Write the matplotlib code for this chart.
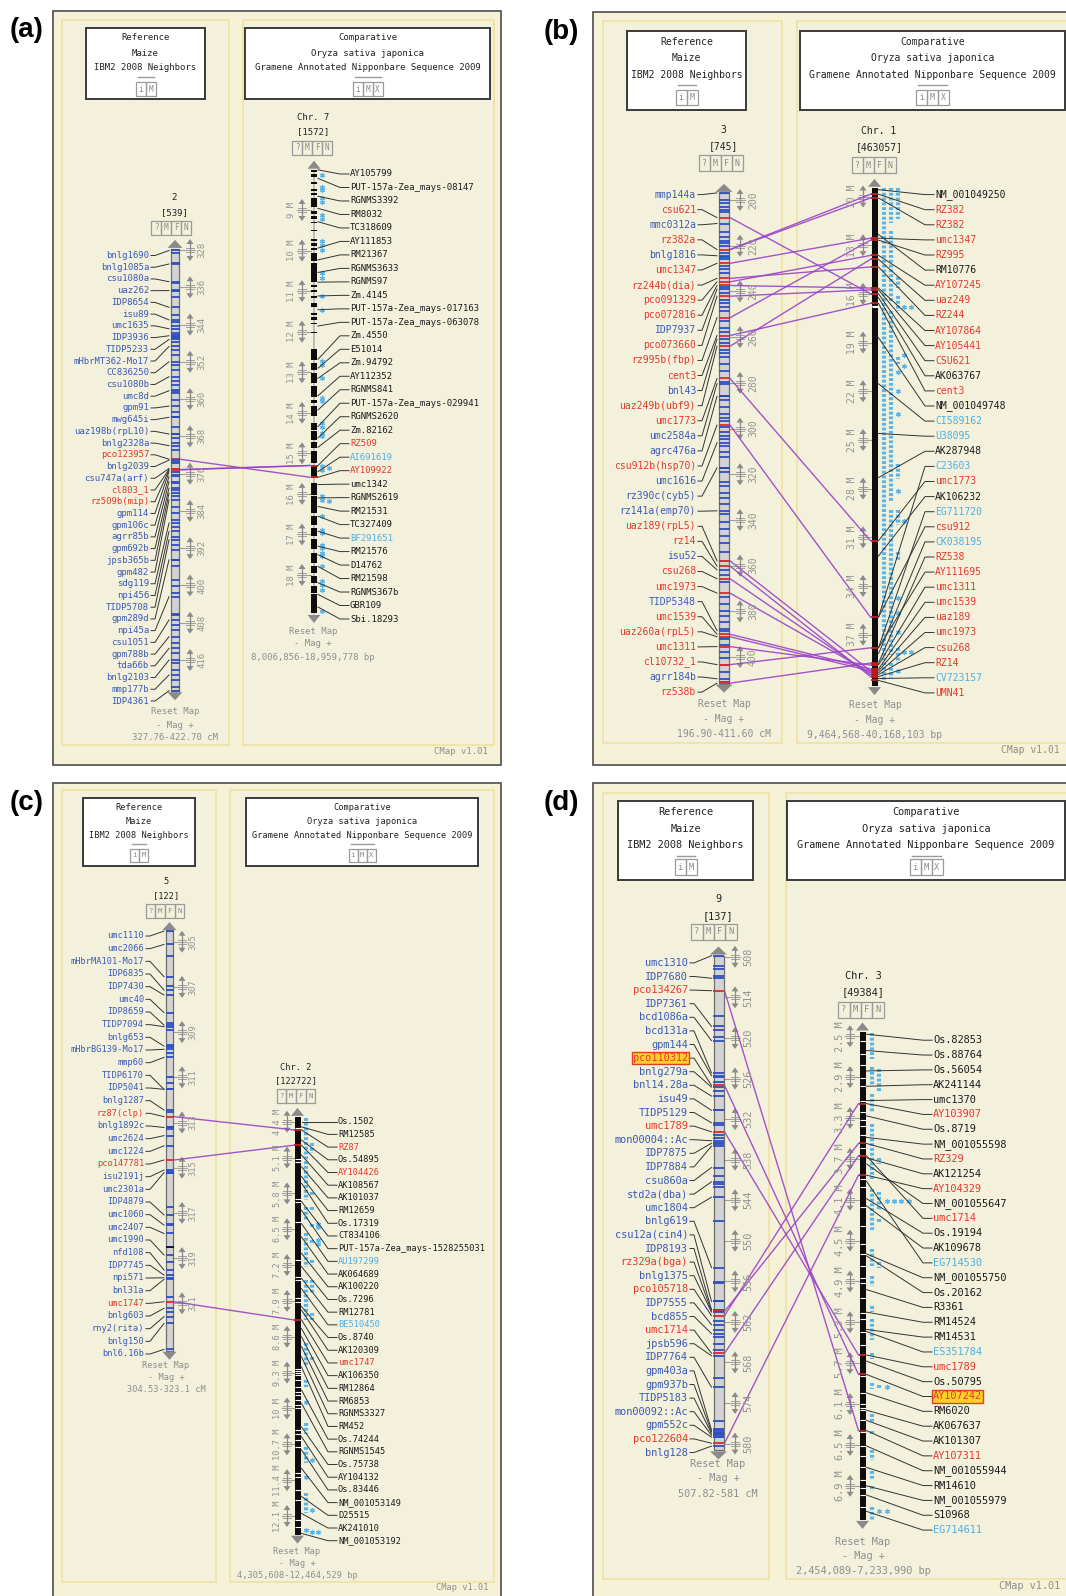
import numpy as np
import matplotlib
matplotlib.use("Agg")
import matplotlib.pyplot as plt
from matplotlib.patches import Rectangle, Polygon

# ---------------- panel (a): maize chr 2 vs rice chr 7 ----------------
A_REF_NAMES = ["bnlg1690", "bnlg1085a", "csu1080a", "uaz262", "IDP8654", "isu89", "umc1635",
               "IDP3936", "TIDP5233", "mHbrMT362-Mo17", "CC836250", "csu1080b", "umc8d", "gpm91",
               "mwg645i", "uaz198b(rpL10)", "bnlg2328a", "pco123957", "bnlg2039", "csu747a(arf)",
               "cl803_1", "rz509b(mip)", "gpm114", "gpm106c", "agrr85b", "gpm692b", "jpsb365b",
               "gpm482", "sdg119", "npi456", "TIDP5708", "gpm289d", "npi45a", "csu1051", "gpm788b",
               "tda66b", "bnlg2103", "mmp177b", "IDP4361"]
A_REF_POS = [328.1, 331.0, 334.8, 336.7, 340.3, 343.0, 344.9, 346.4, 347.2, 348.7, 352.0, 355.2,
             358.2, 361.5, 363.9, 367.5, 370.0, 372.9, 373.1, 374.9, 375.1, 375.2, 375.6, 376.6,
             377.7, 379.1, 380.2, 381.6, 386.6, 388.4, 390.2, 394.5, 402.4, 407.4, 411.0, 413.5,
             416.0, 419.2, 422.6]
A_REF_RED = ["pco123957", "cl803_1", "rz509b(mip)"]
A_REF_EXTRA = [328.6, 330.8, 335.1, 336.6, 336.9, 338.0, 341.9, 343.4, 344.4, 345.9, 346.2, 346.6,
               346.9, 347.7, 349.4, 350.5, 352.7, 353.7, 356.2, 357.0, 358.0, 358.7, 360.2, 362.7,
               365.9, 368.4, 369.5, 370.9, 373.5, 373.8, 376.3, 378.1, 379.5, 380.9, 383.1, 384.5,
               385.9, 387.4, 389.5, 391.3, 392.4, 395.9, 398.8, 400.2, 401.7, 406.1, 406.4, 408.5,
               409.5, 412.4, 414.5, 416.7, 418.1, 420.3, 421.7]
A_REF_DARK = [363.9, 367.5, 394.5]
A_COMP_NAMES = ["AY105799", "PUT-157a-Zea_mays-08147", "RGNMS3392", "RM8032", "TC318609",
                "AY111853", "RM21367", "RGNMS3633", "RGNMS97", "Zm.4145",
                "PUT-157a-Zea_mays-017163", "PUT-157a-Zea_mays-063078", "Zm.4550", "E51014",
                "Zm.94792", "AY112352", "RGNMS841", "PUT-157a-Zea_mays-029941", "RGNMS2620",
                "Zm.82162", "RZ509", "AI691619", "AY109922", "umc1342", "RGNMS2619", "RM21531",
                "TC327409", "BF291651", "RM21576", "D14762", "RM21598", "RGNMS367b", "GBR109",
                "Sbi.18293"]
A_COMP_POS = [8.01, 8.22, 8.66, 8.96, 9.29, 9.94, 10.23, 10.54, 10.78, 11.12, 11.46, 11.86, 12.68,
              12.90, 13.15, 13.58, 13.93, 14.34, 14.62, 14.85, 15.30, 15.45, 15.59, 15.77, 16.10,
              16.31, 16.55, 16.92, 17.29, 17.50, 17.79, 18.19, 18.48, 18.79]
A_COMP_RED = ["RZ509", "AY109922"]
A_COMP_CYAN = ["AI691619", "BF291651"]
A_COMP_SEGS = [(8.01, 8.06), (8.10, 8.18), (8.30, 8.36), (8.49, 8.54), (8.59, 8.64), (8.71, 8.93),
               (9.02, 9.10), (9.16, 9.21), (9.29, 9.31), (9.49, 9.53), (9.72, 9.76), (9.82, 9.89),
               (9.94, 9.99), (10.05, 10.25), (10.31, 10.77), (10.85, 10.90), (10.97, 11.01),
               (11.13, 11.17), (11.30, 11.38), (11.53, 11.59), (11.64, 11.71), (11.78, 11.82),
               (12.00, 12.04), (12.42, 12.71), (12.78, 12.94), (13.01, 13.27), (13.33, 13.60),
               (13.68, 13.76), (13.83, 14.09), (14.25, 14.42), (14.46, 14.66), (14.73, 14.87),
               (14.95, 15.24), (15.32, 15.61), (15.73, 16.02), (16.06, 16.47), (16.55, 16.76),
               (16.84, 17.05), (17.11, 17.37), (17.46, 17.70), (17.78, 17.95), (18.03, 18.20),
               (18.28, 18.44), (18.48, 18.93)]
A_COMP_AST = [(0, 8.14), (0, 8.43), (0, 8.51), (0, 8.71), (0, 8.80), (0, 9.13), (0, 9.21),
              (0, 9.76), (0, 9.86), (0, 9.99), (0, 10.56), (0, 10.68), (0, 11.12), (0, 11.46),
              (0, 12.73), (0, 12.82), (0, 13.15), (0, 13.64), (0, 13.72), (0, 14.25), (0, 14.34),
              (0, 14.50), (0, 14.58), (0, 15.32), (0, 15.40), (1, 15.36), (0, 16.06), (0, 16.14),
              (1, 16.18), (0, 16.55), (0, 16.88), (0, 16.97), (0, 17.25), (0, 17.33), (0, 17.46),
              (0, 17.54), (0, 17.79), (0, 18.15), (0, 18.24), (0, 18.36), (0, 18.89)]
A_LINKS = [("pco123957", "AY109922"), ("rz509b(mip)", "RZ509"), ("cl803_1", "RZ509")]

# ---------------- panel (b): maize chr 3 vs rice chr 1 ----------------
B_REF_NAMES = ["mmp144a", "csu621", "mmc0312a", "rz382a", "bnlg1816", "umc1347", "rz244b(dia)",
               "pco091329", "pco072816", "IDP7937", "pco073660", "rz995b(fbp)", "cent3", "bnl43",
               "uaz249b(ubf9)", "umc1773", "umc2584a", "agrc476a", "csu912b(hsp70)", "umc1616",
               "rz390c(cyb5)", "rz141a(emp70)", "uaz189(rpL5)", "rz14", "isu52", "csu268",
               "umc1973", "TIDP5348", "umc1539", "uaz260a(rpL5)", "umc1311", "cl10732_1",
               "agrr184b", "rz538b"]
B_REF_POS = [196.9, 207.7, 210.3, 221.7, 224.4, 227.7, 234.3, 235.8, 237.4, 239.0, 242.1, 251.5,
             259.3, 260.9, 264.0, 278.1, 280.4, 285.9, 298.5, 306.2, 317.2, 336.0, 357.9, 360.2,
             361.8, 365.7, 372.0, 388.4, 390.0, 391.1, 395.4, 403.3, 409.5, 411.4]
B_REF_RED = ["csu621", "rz382a", "umc1347", "rz244b(dia)", "pco091329", "pco072816", "pco073660",
             "rz995b(fbp)", "cent3", "uaz249b(ubf9)", "umc1773", "csu912b(hsp70)", "uaz189(rpL5)",
             "rz14", "csu268", "umc1973", "umc1539", "uaz260a(rpL5)", "umc1311", "cl10732_1",
             "rz538b"]
B_REF_EXTRA = [199.8, 201.4, 203.0, 204.5, 205.3, 213.9, 216.3, 217.8, 218.9, 220.2, 223.3, 224.9,
               225.7, 228.8, 230.4, 231.9, 238.2, 240.5, 243.7, 245.2, 246.8, 248.4, 253.1, 256.2,
               257.7, 262.4, 265.6, 267.1, 268.7, 271.8, 275.0, 279.7, 285.9, 287.5, 290.6, 293.7,
               295.3, 296.9, 299.2, 301.6, 303.1, 304.7, 307.8, 310.2, 312.5, 317.2, 318.8, 323.5,
               325.0, 328.2, 330.5, 332.9, 337.6, 340.7, 343.8, 346.9, 350.1, 354.0, 357.9, 364.2,
               367.3, 373.5, 376.7, 379.8, 382.2, 384.5, 387.6, 391.5, 392.0, 394.7, 397.8, 400.2,
               403.3, 406.4, 411.1]
B_REF_DARK = [285.9, 317.2]
B_COMP_NAMES = ["NM_001049250", "RZ382", "RZ382", "umc1347", "RZ995", "RM10776", "AY107245",
                "uaz249", "RZ244", "AY107864", "AY105441", "CSU621", "AK063767", "cent3",
                "NM_001049748", "CI589162", "U38095", "AK287948", "C23603", "umc1773", "AK106232",
                "EG711720", "csu912", "CK038195", "RZ538", "AY111695", "umc1311", "umc1539",
                "uaz189", "umc1973", "csu268", "RZ14", "CV723157", "UMN41"]
B_COMP_POS = [9.58, 9.86, 10.09, 12.57, 12.69, 12.34, 13.63, 13.87, 14.34, 15.64, 15.75, 15.99,
              16.23, 16.58, 18.70, 21.54, 24.60, 27.32, 35.92, 31.21, 32.15, 37.81, 35.92, 38.17,
              38.75, 37.81, 38.87, 39.11, 39.23, 39.35, 39.46, 39.58, 39.70, 39.82]
B_COMP_BLACK = ["NM_001049250", "RM10776", "AK063767", "NM_001049748", "AK287948", "AK106232"]
B_COMP_CYAN = ["CI589162", "U38095", "C23603", "EG711720", "CK038195", "CV723157"]
B_COMP_GAPS = [16.72, 16.77, 16.82]
B_COMP_RUNS = [(0, 9.46, 39.93), (1, 9.46, 11.63), (1, 12.10, 16.58), (1, 17.05, 28.84),
               (1, 29.32, 38.28), (1, 38.75, 39.69), (2, 9.50, 11.39), (2, 14.93, 15.64),
               (2, 16.11, 17.05), (2, 19.88, 20.35), (2, 26.49, 27.43), (2, 29.32, 30.26),
               (2, 31.91, 32.38), (2, 37.81, 38.75)]
B_COMP_AST = [(2, 20.83), (2, 22.0), (2, 23.42), (2, 28.14), (2, 34.74), (2, 35.68), (2, 36.86),
              (2, 39.22), (3, 16.82), (3, 19.76), (3, 20.47), (3, 30.02), (3, 38.04), (4, 16.82),
              (4, 38.04)]
B_LINKS = [("csu621", "CSU621"), ("rz382a", "RZ382"), ("umc1347", "umc1347"),
           ("rz244b(dia)", "RZ244"), ("pco091329", "AY107245"), ("pco072816", "AY107864"),
           ("pco073660", "AY105441"), ("rz995b(fbp)", "RZ995"), ("cent3", "cent3"),
           ("uaz249b(ubf9)", "uaz249"), ("umc1773", "umc1773"), ("csu912b(hsp70)", "csu912"),
           ("uaz189(rpL5)", "uaz189"), ("rz14", "RZ14"), ("csu268", "csu268"),
           ("umc1973", "umc1973"), ("umc1539", "umc1539"), ("uaz260a(rpL5)", "uaz189"),
           ("umc1311", "umc1311"), ("cl10732_1", "AY111695"), ("rz538b", "RZ538")]

# ---------------- panel (c): maize chr 5 vs rice chr 2 ----------------
C_REF_NAMES = ["umc1110", "umc2066", "mHbrMA101-Mo17", "IDP6835", "IDP7430", "umc40", "IDP8659",
               "TIDP7094", "bnlg653", "mHbrBG139-Mo17", "mmp60", "TIDP6170", "IDP5041",
               "bnlg1287", "rz87(clp)", "bnlg1892c", "umc2624", "umc1224", "pco147781",
               "isu2191j", "umc2301a", "IDP4879", "umc1060", "umc2407", "umc1990", "nfd108",
               "IDP7745", "npi571", "bnl31a", "umc1747", "bnlg603", "rny2(rita)", "bnlg150",
               "bnl6.16b"]
C_REF_POS = [304.53, 305.12, 306.55, 307.14, 307.36, 308.14, 308.69, 308.76, 309.62, 309.76,
             310.12, 311.53, 311.53, 312.45, 312.74, 313.22, 313.58, 314.03, 314.66, 315.10,
             315.22, 317.09, 317.54, 317.91, 318.86, 319.53, 319.75, 319.87, 319.94, 320.93,
             321.22, 321.59, 321.89, 323.04]
C_REF_RED = ["rz87(clp)", "pco147781", "umc1747"]
C_REF_EXTRA = [305.63, 306.96, 308.61, 308.91, 309.57, 309.68, 309.91, 310.97, 311.27, 312.52,
               313.18, 313.27, 315.16, 315.25, 316.73, 317.51, 318.50, 319.16, 320.71, 321.37]
C_REF_DARK = [318.50]
C_COMP_NAMES = ["Os.1502", "RM12585", "RZ87", "Os.54895", "AY104426", "AK108567", "AK101037",
                "RM12659", "Os.17319", "CT834106", "PUT-157a-Zea_mays-1528255031", "AU197299",
                "AK064689", "AK100220", "Os.7296", "RM12781", "BE510450", "Os.8740", "AK120309",
                "umc1747", "AK106350", "RM12864", "RM6853", "RGNMS3327", "RM452", "Os.74244",
                "RGNMS1545", "Os.75738", "AY104132", "Os.83446", "NM_001053149", "D25515",
                "AK241010", "NM_001053192"]
C_COMP_POS = [4.40, 4.50, 4.56, 4.76, 4.86, 5.05, 5.28, 5.47, 5.60, 5.96, 6.13, 6.39, 6.65, 6.97,
              7.23, 7.46, 7.66, 8.01, 8.08, 8.27, 8.44, 8.60, 8.79, 8.99, 9.19, 9.64, 9.90, 10.36,
              10.55, 10.81, 11.17, 11.72, 12.05, 12.44]
C_COMP_RED = ["RZ87", "AY104426", "umc1747"]
C_COMP_CYAN = ["AU197299", "BE510450"]
C_COMP_GAPS = [4.53, 5.12, 5.18, 5.90, 5.96, 6.35, 7.10, 7.43, 7.49, 7.85, 7.92, 9.22, 9.26,
               9.30, 9.34, 9.45, 9.58, 9.67, 9.74, 9.84, 9.93, 10.0, 10.42, 10.49, 10.62, 10.75,
               11.27, 11.33, 11.59, 11.79, 12.18, 12.31]
C_COMP_RUNS = [(0, 4.33, 5.93), (0, 6.06, 6.32), (0, 6.58, 7.23), (0, 7.49, 8.27), (0, 8.73, 9.19),
               (0, 9.45, 9.58), (0, 10.29, 10.49), (0, 10.75, 11.07), (0, 11.66, 12.05),
               (1, 4.82, 5.02), (1, 5.77, 5.86), (1, 6.06, 6.16), (1, 6.39, 6.45), (1, 6.71, 6.81),
               (1, 7.10, 7.20), (1, 7.49, 7.75), (1, 8.14, 8.27), (1, 8.99, 9.09)]
C_COMP_AST = [(0, 9.87), (0, 11.33), (0, 12.38), (1, 11.01), (1, 11.98), (1, 12.41), (2, 6.39),
              (2, 6.45), (2, 6.71), (2, 6.78), (2, 12.41)]
C_LINKS = [("rz87(clp)", "RZ87"), ("pco147781", "AY104426"), ("umc1747", "umc1747")]

# ---------------- panel (d): maize chr 9 vs rice chr 3 ----------------
D_REF_NAMES = ["umc1310", "IDP7680", "pco134267", "IDP7361", "bcd1086a", "bcd131a", "gpm144",
               "pco110312", "bnlg279a", "bnl14.28a", "isu49", "TIDP5129", "umc1789",
               "mon00004::Ac", "IDP7875", "IDP7884", "csu860a", "std2a(dba)", "umc1804",
               "bnlg619", "csu12a(cin4)", "IDP8193", "rz329a(bga)", "bnlg1375", "pco105718",
               "IDP7555", "bcd855", "umc1714", "jpsb596", "IDP7764", "gpm403a", "gpm937b",
               "TIDP5183", "mon00092::Ac", "gpm552c", "pco122604", "bnlg128"]
D_REF_POS = [507.84, 511.17, 513.02, 518.30, 520.41, 525.17, 525.59, 527.02, 527.28, 528.60,
             530.72, 532.56, 533.89, 535.21, 535.58, 536.00, 539.17, 541.28, 543.55, 553.96,
             558.98, 560.19, 560.46, 560.56, 561.09, 562.41, 563.73, 566.64, 567.01, 571.66,
             578.00, 578.26, 578.52, 578.79, 579.05, 579.95, 580.37]
D_REF_RED = ["pco134267", "pco110312", "umc1789", "rz329a(bga)", "pco105718", "umc1714",
             "pco122604"]
D_REF_EXTRA = [509.32, 509.85, 510.91, 516.72, 518.83, 519.89, 525.80, 526.49, 527.81, 530.6,
               532.83, 534.41, 534.84, 535.73, 540.49, 541.54, 542.07, 547.09, 556.07, 556.3,
               558.98, 560.30, 561.88, 563.20, 564.26, 565.32, 566.11, 570.33, 576.67, 577.89,
               578.4, 578.63, 579.05]
D_REF_DARK = [558.98]
D_COMP_NAMES = ["Os.82853", "Os.88764", "Os.56054", "AK241144", "umc1370", "AY103907", "Os.8719",
                "NM_001055598", "RZ329", "AK121254", "AY104329", "NM_001055647", "umc1714",
                "Os.19194", "AK109678", "EG714530", "NM_001055750", "Os.20162", "R3361",
                "RM14524", "RM14531", "ES351784", "umc1789", "Os.50795", "AY107242", "RM6020",
                "AK067637", "AK101307", "AY107311", "NM_001055944", "RM14610", "NM_001055979",
                "S10968", "EG714611"]
D_COMP_POS = [2.48, 2.64, 2.84, 2.99, 3.13, 3.16, 3.28, 3.49, 3.55, 3.69, 3.86, 3.75, 3.67, 4.09,
              4.16, 3.92, 4.63, 4.65, 4.98, 5.20, 5.37, 5.39, 5.62, 5.68, 5.81, 5.99, 6.16, 6.26,
              6.36, 6.51, 6.72, 6.90, 6.99, 7.15]
D_COMP_RED = ["AY103907", "RZ329", "AY104329", "umc1714", "umc1789", "AY107242", "AY107311"]
D_COMP_CYAN = ["EG714530", "ES351784", "EG714611"]
D_HIGHLIGHT = ["pco110312", "AY107242"]
D_COMP_GAPS = [2.55, 2.67, 2.78, 2.91, 2.99, 3.13, 3.24, 3.32, 3.38, 3.47, 3.59, 3.90, 3.98, 4.17,
               4.36, 4.53, 4.63, 4.75, 4.87, 4.92, 5.06, 5.21, 5.27, 5.39, 5.52, 5.83, 5.99, 6.10,
               6.14, 6.16, 6.26, 6.37, 6.51, 6.61, 6.72, 6.84, 6.92, 6.99, 7.11]
D_COMP_RUNS = [(0, 2.47, 2.72), (0, 2.80, 2.99), (0, 3.07, 3.24), (0, 3.36, 3.90), (0, 4.00, 4.40),
               (0, 4.58, 4.75), (0, 4.85, 4.94), (0, 5.14, 5.20), (0, 5.27, 5.47), (0, 5.60, 5.66),
               (0, 5.89, 5.95), (0, 6.20, 6.28), (0, 6.36, 6.39), (0, 6.55, 6.65), (0, 6.76, 6.84),
               (0, 6.90, 6.95), (0, 7.11, 7.23), (1, 2.82, 3.05), (1, 3.69, 3.75), (1, 4.02, 4.21),
               (1, 4.29, 4.33), (1, 4.71, 4.77), (1, 5.91, 5.95)]
D_COMP_AST = [(1, 7.15), (2, 4.11), (3, 4.11), (4, 4.11), (5, 4.11), (2, 5.93), (2, 7.15)]
D_LINKS = [("pco134267", "AY107311"), ("pco110312", "AY107242"), ("umc1789", "umc1789"),
           ("rz329a(bga)", "RZ329"), ("pco105718", "AY103907"), ("umc1714", "umc1714"),
           ("pco122604", "AY104329")]

# ---------------- layout ----------------
MONO = "DejaVu Sans Mono"
COL = {"b": "#3a5ab8", "r": "#e6392b", "k": "#1c1c1c", "c": "#4cb0e4"}
GRAY = "#8e8e8e"
PURPLE = "#9b42c8"
AST = "#5ab6e8"

PANELS = [
    dict(tag="(a)", tag_xy=(27, 30), outer=(53, 11, 501, 765), fs=6.5,
         subs=[(62, 20, 229, 745), (243, 20, 494, 745)],
         heads=[(86, 28, 205, 99), (245, 28, 490, 99)], head_y=[38, 53, 68, 77, 89], btn=(10, 14),
         cmap=(488, 752)),
    dict(tag="(b)", tag_xy=(561, 32), outer=(593, 12, 1075, 765), fs=7.0,
         subs=[(603, 21, 782, 743), (797, 21, 1075, 743)],
         heads=[(627, 31, 746, 110), (800, 31, 1065, 110)], head_y=[42, 58, 75, 85, 97], btn=(11, 15),
         cmap=(1060, 750)),
    dict(tag="(c)", tag_xy=(27, 803), outer=(53, 783, 501, 1610), fs=6.2,
         subs=[(62, 790, 216, 1582), (230, 790, 494, 1582)],
         heads=[(83, 798, 195, 866), (246, 798, 478, 866)], head_y=[807, 822, 836, 844, 855], btn=(9, 13),
         cmap=(488, 1588)),
    dict(tag="(d)", tag_xy=(561, 803), outer=(593, 783, 1075, 1610), fs=7.4,
         subs=[(603, 793, 769, 1579), (786, 793, 1075, 1579)],
         heads=[(618, 801, 753, 880), (787, 801, 1065, 880)], head_y=[812, 829, 845, 856, 867], btn=(11, 16),
         cmap=(1060, 1586)),
]

MAPS = {
    "a_ref": dict(kind="ref", bar_x=175, bar_w=8, anchor=(336, 287.3, 416, 660.0), range=(327.76, 422.70),
                  label_x=149, label_y=(255.5, 701), arrow_x=190, tick_x=202,
                  ticks=[328, 336, 344, 352, 360, 368, 376, 384, 392, 400, 408, 416],
                  title=["2", "[539]"], title_x=174, title_y=[198, 213], btn_y=228, btn_x=171,
                  foot=["Reset Map", "- Mag +", "327.76-422.70 cM"], foot_x=175, foot_y=[712, 725, 738]),
    "a_comp": dict(kind="comp", bar_x=314, bar_w=6, anchor=(9, 210, 18, 575), range=(8.006856, 18.959778),
                   label_x=350, label_y=(174, 619), arrow_x=302, tick_x=292,
                   ticks=[9, 10, 11, 12, 13, 14, 15, 16, 17, 18], ast_x=(322, 7),
                   title=["Chr. 7", "[1572]"], title_x=313, title_y=[117, 132], btn_y=148, btn_x=312,
                   foot=["Reset Map", "- Mag +", "8,006,856-18,959,778 bp"], foot_x=313, foot_y=[631, 644, 658]),
    "b_ref": dict(kind="ref", bar_x=724, bar_w=10, anchor=(200, 200, 400, 657.1), range=(196.90, 411.60),
                  label_x=696, label_y=(194.6, 692.1), arrow_x=740, tick_x=753,
                  ticks=[200, 220, 240, 260, 280, 300, 320, 340, 360, 380, 400],
                  title=["3", "[745]"], title_x=723, title_y=[130, 146], btn_y=163, btn_x=721,
                  foot=["Reset Map", "- Mag +", "196.90-411.60 cM"], foot_x=724, foot_y=[704, 719, 734]),
    "b_comp": dict(kind="comp", bar_x=874.5, bar_w=6, anchor=(10, 196.5, 37, 634.7), range=(9.464568, 40.168103),
                   label_x=935, label_y=(194.6, 692.9), arrow_x=863, tick_x=852,
                   ticks=[10, 13, 16, 19, 22, 25, 28, 31, 34, 37], ast_x=(884, 6.8),
                   title=["Chr. 1", "[463057]"], title_x=879, title_y=[131, 147], btn_y=165, btn_x=874,
                   foot=["Reset Map", "- Mag +", "9,464,568-40,168,103 bp"], foot_x=875, foot_y=[705, 720, 735]),
    "c_ref": dict(kind="ref", bar_x=169.5, bar_w=7, anchor=(305, 941.7, 321, 1303.3), range=(304.53, 323.1),
                  label_x=144, label_y=(936, 1354), arrow_x=182, tick_x=193,
                  ticks=[305, 307, 309, 311, 313, 315, 317, 319, 321],
                  title=["5", "[122]"], title_x=166, title_y=[882, 896], btn_y=911, btn_x=165,
                  foot=["Reset Map", "- Mag +", "304.53-323.1 cM"], foot_x=166, foot_y=[1365, 1377, 1390]),
    "c_comp": dict(kind="comp", bar_x=297.5, bar_w=6, anchor=(4.4, 1121.7, 12.1, 1516), range=(4.305608, 12.464529),
                   label_x=338, label_y=(1121.7, 1540.7), arrow_x=287, tick_x=277,
                   ticks=[4.4, 5.1, 5.8, 6.5, 7.2, 7.9, 8.6, 9.3, 10, 10.7, 11.4, 12.1], ast_x=(306, 6),
                   title=["Chr. 2", "[122722]"], title_x=296, title_y=[1067, 1081], btn_y=1096, btn_x=296,
                   foot=["Reset Map", "- Mag +", "4,305,608-12,464,529 bp"], foot_x=297, foot_y=[1551, 1563, 1576]),
    "d_ref": dict(kind="ref", bar_x=718.5, bar_w=10, anchor=(508, 956.8, 580, 1443.6), range=(507.82, 581),
                  label_x=688, label_y=(962.9, 1452.5), arrow_x=735, tick_x=748,
                  ticks=[508, 514, 520, 526, 532, 538, 544, 550, 556, 562, 568, 574, 580],
                  title=["9", "[137]"], title_x=718, title_y=[899, 916], btn_y=932, btn_x=714,
                  foot=["Reset Map", "- Mag +", "507.82-581 cM"], foot_x=718, foot_y=[1464, 1478, 1494]),
    "d_comp": dict(kind="comp", bar_x=862.5, bar_w=6, anchor=(2.5, 1036.2, 6.9, 1485.8), range=(2.454089, 7.233990),
                   label_x=933, label_y=(1040.2, 1530.1), arrow_x=850, tick_x=840,
                   ticks=[2.5, 2.9, 3.3, 3.7, 4.1, 4.5, 4.9, 5.3, 5.7, 6.1, 6.5, 6.9], ast_x=(872, 7.3),
                   title=["Chr. 3", "[49384]"], title_x=863, title_y=[976, 992], btn_y=1010, btn_x=861,
                   foot=["Reset Map", "- Mag +", "2,454,089-7,233,990 bp"], foot_x=863, foot_y=[1542, 1556, 1571]),
}

W, H = 1066, 1596
fig = plt.figure(figsize=(W / 100, H / 100), dpi=100)
ax = fig.add_axes([0, 0, 1, 1])
ax.set_xlim(0, W)
ax.set_ylim(H, 0)
ax.axis("off")


def ymap(anchor):
    v0, y0, v1, y1 = anchor
    k = (y1 - y0) / (v1 - v0)
    return lambda v: y0 + (np.asarray(v, dtype=float) - v0) * k


def txt(x, y, s, fs, color="#222222", ha="center", **kw):
    ax.text(x, y, s, fontsize=fs, family=MONO, color=color, ha=ha, va="center", zorder=6, **kw)


def buttons(cx, cy, letters, bw, bh, fs):
    x0 = cx - len(letters) * bw / 2
    for i, ch in enumerate(letters):
        ax.add_patch(Rectangle((x0 + i * bw, cy - bh / 2), bw, bh, fc="none", ec="#9a9a9a",
                               lw=0.9, zorder=6))
        txt(x0 + (i + 0.5) * bw, cy, ch, fs * 0.85, color="#8a8a8a")


def draw_map(m, fs, names, pos, cols, extra=(), dark=(), segs=None, gaps=(), runs=(), ast=(),
             highlight=()):
    y = ymap(m["anchor"])
    ref = m["kind"] == "ref"
    bx, bw = m["bar_x"], m["bar_w"]
    top, bot = float(y(m["range"][0])), float(y(m["range"][1]))
    left, right = bx - bw / 2, bx + bw / 2

    # title, buttons, footer
    for s, ty in zip(m["title"], m["title_y"]):
        txt(m["title_x"], ty, s, fs)
    buttons(m["btn_x"], m["btn_y"], "?MFN", fs * 1.55, fs * 2.2, fs)
    for s, fy in zip(m["foot"], m["foot_y"]):
        txt(m["foot_x"], fy, s, fs, color=GRAY)

    # scale
    side = 1 if ref else -1
    edge = right if ref else left
    axx = m["arrow_x"]
    for v in m["ticks"]:
        yy = float(y(v))
        ax.plot([edge, axx + side * 5], [yy, yy], color="#a0a0a0", lw=0.8, zorder=2.5)
        ax.plot([axx - 4, axx + 4], [yy - 2, yy - 2], color="#a0a0a0", lw=0.7, zorder=2.5)
        ax.plot([axx - 4, axx + 4], [yy + 2, yy + 2], color="#a0a0a0", lw=0.7, zorder=2.5)
        ax.plot([axx, axx], [yy - 8, yy + 8], color="#8a8a8a", lw=0.9, zorder=2.5)
        ax.add_patch(Polygon([(axx - 3.5, yy - 6), (axx + 3.5, yy - 6), (axx, yy - 11)],
                             closed=True, fc="#8a8a8a", ec="none", zorder=2.5))
        ax.add_patch(Polygon([(axx - 3.5, yy + 6), (axx + 3.5, yy + 6), (axx, yy + 11)],
                             closed=True, fc="#8a8a8a", ec="none", zorder=2.5))
        lab = ("%g" % v) if ref else ("%g M" % v)
        txt(m["tick_x"], yy, lab, fs, color="#939393", rotation=90)

    # bar
    if ref:
        ax.add_patch(Rectangle((left, top), bw, bot - top, fc="#d3d3d3", ec="#707070", lw=0.9, zorder=3))
    elif segs is not None:
        ax.add_patch(Rectangle((left + bw * 0.35, top), bw * 0.3, bot - top, fc="#bdbdbd", ec="none", zorder=3))
        for s, e in segs:
            ax.add_patch(Rectangle((left, float(y(s))), bw, float(y(e) - y(s)), fc="#0d0d0d",
                                   ec="none", zorder=3))
    else:
        ax.add_patch(Rectangle((left, top), bw, bot - top, fc="#0d0d0d", ec="none", zorder=3))
        if len(gaps):
            ax.hlines(y(gaps), left, right, colors="white", lw=0.8, zorder=3.2)
    h = bw / 2 + 3.5
    ax.add_patch(Polygon([(bx - h, top - 1), (bx + h, top - 1), (bx, top - 9)], closed=True,
                         fc="#8a8a8a", ec="none", zorder=3))
    ax.add_patch(Polygon([(bx - h, bot + 1), (bx + h, bot + 1), (bx, bot + 9)], closed=True,
                         fc="#8a8a8a", ec="none", zorder=3))

    # features
    if ref:
        ax.hlines(y(extra), left - 0.5, right + 0.5, colors="#2d4fc4", lw=1.3, zorder=4)
        ax.hlines(y(dark), left - 0.5, right + 0.5, colors="#101030", lw=1.3, zorder=4.1)
    fcol = {"b": "#2d4fc4", "r": "#e02a2a", "k": "#111111", "c": None}
    for p, c in zip(pos, cols):
        if ref or c == "r":
            ax.hlines(float(y(p)), left - 0.5, right + 0.5,
                      colors=fcol[c] if ref else "#c81e1e", lw=1.3, zorder=4.2)

    # EST hits beside the comparative bar
    if not ref:
        x0, dx = m["ast_x"]
        for c, s, e in runs:
            ax.vlines(x0 + c * dx, float(y(s)), float(y(e)), colors=AST, lw=3.0,
                      linestyles=(0, (0.7, 0.45)), zorder=3.5)
        if len(ast):
            ax.scatter([x0 + c * dx for c, _ in ast], [float(y(p)) for _, p in ast], marker=(6, 2, 0),
                       s=9, c=AST, linewidths=0.9, zorder=3.5)

    # labels with leader lines
    n = len(names)
    lys = np.linspace(m["label_y"][0], m["label_y"][1], n)
    lx = m["label_x"]
    lookup = {}
    for name, p, c, ly in zip(names, pos, cols, lys):
        fy = float(y(p))
        lookup.setdefault(name, []).append(fy)
        if ref:
            ax.plot([lx + 2, lx + 6, left - 2], [ly, ly, fy], color="#333333", lw=0.7, zorder=4.5)
            tx, ha = lx, "right"
        else:
            ax.plot([right + 1, lx - 10, lx - 1], [fy, ly, ly], color="#333333", lw=0.7, zorder=4.5)
            tx, ha = lx, "left"
        kw = {}
        if name in highlight:
            kw["bbox"] = dict(boxstyle="square,pad=0.12", fc="#ffcf2a", ec="#e2401e", lw=1.0)
        txt(tx, ly, name, fs, color=COL[c], ha=ha, **kw)
    return lookup, right, left


def colours(names, default, red=(), cyan=(), black=()):
    out = []
    for nm in names:
        if nm in red:
            out.append("r")
        elif nm in cyan:
            out.append("c")
        elif nm in black:
            out.append("k")
        else:
            out.append(default)
    return out


def draw_panel(p):
    x0, y0, x1, y1 = p["outer"]
    ax.add_patch(Rectangle((x0, y0), x1 - x0, y1 - y0, fc="#f5f2d7", ec="#5a5a5a", lw=1.3, zorder=0))
    for sx0, sy0, sx1, sy1 in p["subs"]:
        ax.add_patch(Rectangle((sx0, sy0), sx1 - sx0, sy1 - sy0, fc="#f3f1dc", ec="#efe3a0",
                               lw=1.2, zorder=0.5))
    fs = p["fs"]
    hy = p["head_y"]
    heads = [["Reference", "Maize", "IBM2 2008 Neighbors"],
             ["Comparative", "Oryza sativa japonica", "Gramene Annotated Nipponbare Sequence 2009"]]
    for (hx0, hy0, hx1, hy1), lines, btns in zip(p["heads"], heads, ["iM", "iMX"]):
        ax.add_patch(Rectangle((hx0, hy0), hx1 - hx0, hy1 - hy0, fc="white", ec="#3a3a3a", lw=1.4, zorder=1))
        cx = (hx0 + hx1) / 2
        for s, ty in zip(lines, hy[:3]):
            txt(cx, ty, s, fs)
        bw, bh = p["btn"]
        ax.plot([cx - len(btns) * bw / 2 + 2, cx + len(btns) * bw / 2 - 2], [hy[3], hy[3]],
                color="#9a9a9a", lw=1.0, zorder=6)
        buttons(cx, hy[4], btns, bw, bh, fs)
    ax.text(p["tag_xy"][0], p["tag_xy"][1], p["tag"], fontsize=20, family="Liberation Sans",
            weight="bold", ha="center", va="center", color="black", zorder=6)
    txt(p["cmap"][0], p["cmap"][1], "CMap v1.01", fs, color=GRAY, ha="right")


def link(ref_lookup, comp_lookup, ref_right, comp_left, pairs):
    for a, b in pairs:
        for ya in ref_lookup.get(a, []):
            for yb in comp_lookup.get(b, []):
                ax.plot([ref_right + 1, comp_left - 1], [ya, yb], color=PURPLE, lw=1.0,
                        alpha=0.9, zorder=2.8)


for p in PANELS:
    draw_panel(p)

# panel (a)
fs = PANELS[0]["fs"]
ra, rr, _ = draw_map(MAPS["a_ref"], fs, A_REF_NAMES, A_REF_POS, colours(A_REF_NAMES, "b", A_REF_RED),
                     extra=A_REF_EXTRA, dark=A_REF_DARK)
ca, _, cl = draw_map(MAPS["a_comp"], fs, A_COMP_NAMES, A_COMP_POS,
                     colours(A_COMP_NAMES, "k", A_COMP_RED, A_COMP_CYAN), segs=A_COMP_SEGS, ast=A_COMP_AST)
link(ra, ca, rr, cl, A_LINKS)

# panel (b)
fs = PANELS[1]["fs"]
rb, rr, _ = draw_map(MAPS["b_ref"], fs, B_REF_NAMES, B_REF_POS, colours(B_REF_NAMES, "b", B_REF_RED),
                     extra=B_REF_EXTRA, dark=B_REF_DARK)
cb, _, cl = draw_map(MAPS["b_comp"], fs, B_COMP_NAMES, B_COMP_POS,
                     colours(B_COMP_NAMES, "r", cyan=B_COMP_CYAN, black=B_COMP_BLACK),
                     gaps=B_COMP_GAPS, runs=B_COMP_RUNS, ast=B_COMP_AST)
link(rb, cb, rr, cl, B_LINKS)

# panel (c)
fs = PANELS[2]["fs"]
rc, rr, _ = draw_map(MAPS["c_ref"], fs, C_REF_NAMES, C_REF_POS, colours(C_REF_NAMES, "b", C_REF_RED),
                     extra=C_REF_EXTRA, dark=C_REF_DARK)
cc, _, cl = draw_map(MAPS["c_comp"], fs, C_COMP_NAMES, C_COMP_POS,
                     colours(C_COMP_NAMES, "k", C_COMP_RED, C_COMP_CYAN),
                     gaps=C_COMP_GAPS, runs=C_COMP_RUNS, ast=C_COMP_AST)
link(rc, cc, rr, cl, C_LINKS)

# panel (d)
fs = PANELS[3]["fs"]
rd, rr, _ = draw_map(MAPS["d_ref"], fs, D_REF_NAMES, D_REF_POS, colours(D_REF_NAMES, "b", D_REF_RED),
                     extra=D_REF_EXTRA, dark=D_REF_DARK, highlight=D_HIGHLIGHT)
cd, _, cl = draw_map(MAPS["d_comp"], fs, D_COMP_NAMES, D_COMP_POS,
                     colours(D_COMP_NAMES, "k", D_COMP_RED, D_COMP_CYAN),
                     gaps=D_COMP_GAPS, runs=D_COMP_RUNS, ast=D_COMP_AST, highlight=D_HIGHLIGHT)
link(rd, cd, rr, cl, D_LINKS)

fig.savefig("out.png", dpi=100, facecolor="white")
